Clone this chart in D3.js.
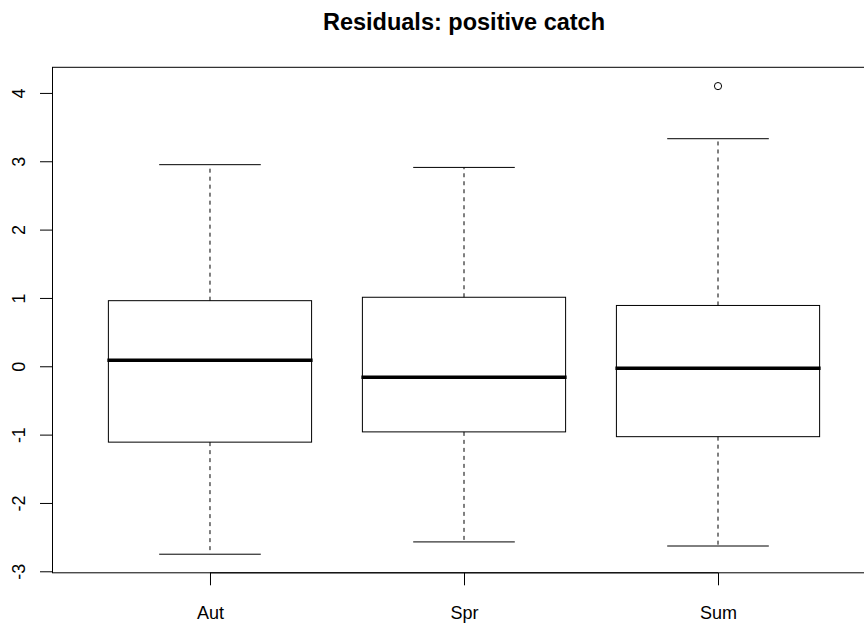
<!DOCTYPE html>
<html>
<head>
<meta charset="utf-8">
<script src="https://cdn.jsdelivr.net/npm/d3@7"></script>
<style>
  html, body { margin: 0; padding: 0; background: #fff; }
  svg { display: block; font-family: "Liberation Sans", Arial, sans-serif; }
</style>
</head>
<body>
<svg id="chart" width="864" height="628"></svg>
<script>
// ---- data ----
const categories = ["Aut", "Spr", "Sum"];
const whiskerLow  = [-2.75, -2.57, -2.63];
const q1          = [-1.11, -0.96, -1.03];
const medians     = [0.09, -0.16, -0.03];
const q3          = [0.96, 1.01, 0.89];
const whiskerHigh = [2.95, 2.91, 3.33];
const outliers    = [[], [], [4.10]];
const yTicks      = [-3, -2, -1, 0, 1, 2, 3, 4];
const title       = "Residuals: positive catch";

// ---- layout ----
const plot = { left: 52.5, top: 67.3, right: 875.5, bottom: 572.8 };
const svg = d3.select("#chart");

const x = d3.scaleLinear().domain([0.38, 3.62]).range([plot.left, plot.right]);
const y = d3.scaleLinear().domain([-3.022, 4.375]).range([plot.bottom, plot.top]);

const boxHalf = 0.4, capHalf = 0.2;

const data = categories.map((c, i) => ({
  cat: c, pos: i + 1,
  lo: whiskerLow[i], q1: q1[i], med: medians[i], q3: q3[i], hi: whiskerHigh[i],
  out: outliers[i]
}));

const g = svg.append("g");

// whiskers (dashed)
g.selectAll(".wu").data(data).enter().append("line")
  .attr("x1", d => x(d.pos)).attr("x2", d => x(d.pos))
  .attr("y1", d => y(d.q3)).attr("y2", d => y(d.hi))
  .attr("stroke", "#000").attr("stroke-width", 1).attr("stroke-dasharray", "4,4");
g.selectAll(".wl").data(data).enter().append("line")
  .attr("x1", d => x(d.pos)).attr("x2", d => x(d.pos))
  .attr("y1", d => y(d.q1)).attr("y2", d => y(d.lo))
  .attr("stroke", "#000").attr("stroke-width", 1).attr("stroke-dasharray", "4,4");

// caps
g.selectAll(".cu").data(data).enter().append("line")
  .attr("x1", d => x(d.pos - capHalf)).attr("x2", d => x(d.pos + capHalf))
  .attr("y1", d => y(d.hi)).attr("y2", d => y(d.hi))
  .attr("stroke", "#000").attr("stroke-width", 1);
g.selectAll(".cl").data(data).enter().append("line")
  .attr("x1", d => x(d.pos - capHalf)).attr("x2", d => x(d.pos + capHalf))
  .attr("y1", d => y(d.lo)).attr("y2", d => y(d.lo))
  .attr("stroke", "#000").attr("stroke-width", 1);

// boxes
g.selectAll(".box").data(data).enter().append("rect")
  .attr("x", d => x(d.pos - boxHalf))
  .attr("width", d => x(d.pos + boxHalf) - x(d.pos - boxHalf))
  .attr("y", d => y(d.q3))
  .attr("height", d => y(d.q1) - y(d.q3))
  .attr("fill", "none").attr("stroke", "#000").attr("stroke-width", 1);

// medians
g.selectAll(".med").data(data).enter().append("line")
  .attr("x1", d => x(d.pos - boxHalf) - 1).attr("x2", d => x(d.pos + boxHalf) + 1)
  .attr("y1", d => y(d.med)).attr("y2", d => y(d.med))
  .attr("stroke", "#000").attr("stroke-width", 3.5);

// outliers
const outPts = data.flatMap(d => d.out.map(v => ({ pos: d.pos, v })));
g.selectAll(".out").data(outPts).enter().append("circle")
  .attr("cx", d => x(d.pos)).attr("cy", d => y(d.v)).attr("r", 3.6)
  .attr("fill", "none").attr("stroke", "#000").attr("stroke-width", 1);

// plot frame
svg.append("rect")
  .attr("x", plot.left).attr("y", plot.top)
  .attr("width", plot.right - plot.left).attr("height", plot.bottom - plot.top)
  .attr("fill", "none").attr("stroke", "#000").attr("stroke-width", 1);

// y axis
const yAxis = d3.axisLeft(y).tickValues(yTicks).tickSize(12.5).tickPadding(0)
  .tickFormat(d => String(d));
const ya = svg.append("g").attr("transform", `translate(${plot.left},0)`).call(yAxis);
ya.select(".domain").remove();
ya.selectAll(".tick line").attr("stroke", "#000");
ya.selectAll(".tick text")
  .attr("x", null).attr("dy", null)
  .attr("transform", "translate(-27.5,0) rotate(-90)")
  .attr("text-anchor", "middle")
  .attr("fill", "#000")
  .style("font-size", "18px")
  .style("font-family", "'Liberation Sans', Arial, sans-serif");

// x axis
const xAxis = d3.axisBottom(x).tickValues(data.map(d => d.pos))
  .tickFormat((d, i) => categories[i]).tickSize(12.5).tickPadding(0);
const xa = svg.append("g").attr("transform", `translate(0,${plot.bottom})`).call(xAxis);
xa.select(".domain").attr("d", `M${x(1)},0H${x(3)}`).attr("stroke", "#000");
xa.selectAll(".tick line").attr("stroke", "#000");
xa.selectAll(".tick text")
  .attr("y", 46).attr("dy", null)
  .attr("fill", "#000")
  .style("font-size", "18px")
  .style("font-family", "'Liberation Sans', Arial, sans-serif");

// title
svg.append("text")
  .attr("x", (plot.left + plot.right) / 2).attr("y", 30)
  .attr("text-anchor", "middle")
  .style("font-size", "23.5px").style("font-weight", "bold")
  .style("font-family", "'Liberation Sans', Arial, sans-serif")
  .text(title);
</script>
</body>
</html>
